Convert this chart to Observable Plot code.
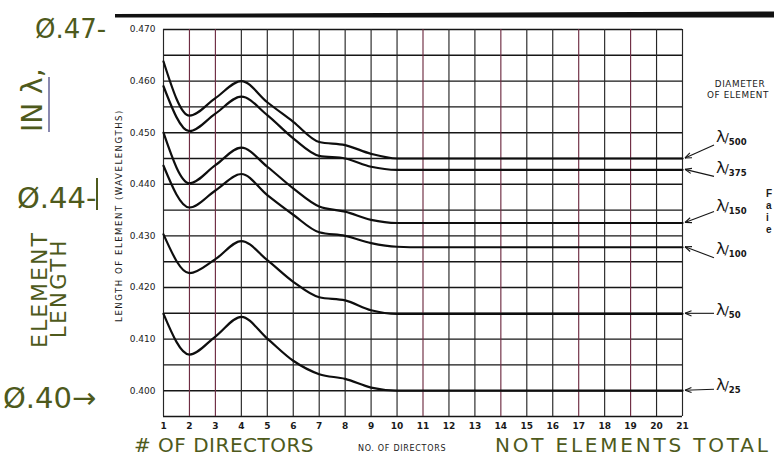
<!DOCTYPE html>
<html>
<head>
<meta charset="utf-8">
<script src="https://cdn.jsdelivr.net/npm/d3@7"></script>
<script src="https://cdn.jsdelivr.net/npm/@observablehq/plot@0.6"></script>
<style>
  html, body { margin: 0; padding: 0; background: #fff; }
  #chart { width: 774px; height: 456px; overflow: hidden; }
</style>
</head>
<body>
<div id="chart"></div>
<script>
// ---- data ----
const directors = [1,2,3,4,5,6,7,8,9,10,11,12,13,14,15,16,17,18,19,20,21];
const diameterLabels = ["500","375","150","100","50","25"];
const lenD500 = [0.4638,0.4533,0.4567,0.4600,0.4559,0.4521,0.4482,0.4476,0.4459,0.4450,0.4450,0.4450,0.4450,0.4450,0.4450,0.4450,0.4450,0.4450,0.4450,0.4450,0.4450];
const lenD375 = [0.4590,0.4503,0.4537,0.4570,0.4534,0.4489,0.4455,0.4450,0.4434,0.4428,0.4428,0.4428,0.4428,0.4428,0.4428,0.4428,0.4428,0.4428,0.4428,0.4428,0.4428];
const lenD150 = [0.4500,0.4402,0.4437,0.4471,0.4434,0.4392,0.4357,0.4347,0.4331,0.4325,0.4325,0.4325,0.4325,0.4325,0.4325,0.4325,0.4325,0.4325,0.4325,0.4325,0.4325];
const lenD100 = [0.4436,0.4355,0.4388,0.4420,0.4379,0.4341,0.4307,0.4300,0.4286,0.4279,0.4278,0.4278,0.4278,0.4278,0.4278,0.4278,0.4278,0.4278,0.4278,0.4278,0.4278];
const lenD50  = [0.4303,0.4228,0.4255,0.4290,0.4253,0.4211,0.4181,0.4175,0.4156,0.4149,0.4149,0.4149,0.4149,0.4149,0.4149,0.4149,0.4149,0.4149,0.4149,0.4149,0.4149];
const lenD25  = [0.4149,0.4070,0.4105,0.4143,0.4101,0.4058,0.4032,0.4023,0.4006,0.4000,0.4000,0.4000,0.4000,0.4000,0.4000,0.4000,0.4000,0.4000,0.4000,0.4000,0.4000];
const xTickLabels = [1,2,3,4,5,6,7,8,9,10,11,12,13,14,15,16,17,18,19,20,21];
const yTickLabels = [0.400,0.410,0.420,0.430,0.440,0.450,0.460,0.470];
const yGridValues = [0.395,0.400,0.405,0.410,0.415,0.420,0.425,0.430,0.435,0.440,0.445,0.450,0.455,0.460,0.465,0.470];
const tintedColumns = [2,3,11,14,17,19];

const seriesList = [lenD500, lenD375, lenD150, lenD100, lenD50, lenD25];
const rows = diameterLabels.flatMap((d, i) =>
  seriesList[i].map((v, j) => ({directors: directors[j], length: v, diameter: d})));

// label layout (pixel offsets relative to each curve's right end)
const labelLayout = [
  {tailDy: -13, textDy: -16},
  {tailDy:   7, textDy:   4},
  {tailDy: -11, textDy: -12},
  {tailDy:  11, textDy:   7},
  {tailDy:   0, textDy:   2},
  {tailDy:  -1, textDy:   0}
];

const ink = "#161616";
const plot = Plot.plot({
  width: 774,
  height: 456,
  marginLeft: 163,
  marginRight: 92,
  marginTop: 29,
  marginBottom: 40,
  x: {domain: [1, 21]},
  y: {domain: [0.395, 0.470]},
  style: {fontFamily: "DejaVu Sans", background: "#ffffff", color: ink},
  marks: [
    Plot.ruleY(yGridValues, {stroke: ink, strokeWidth: 1.4}),
    Plot.ruleX(xTickLabels, {stroke: d => tintedColumns.includes(d) ? "#6e2c42" : "#262626", strokeWidth: 1.15}),
    Plot.axisY({ticks: yTickLabels, tickSize: 0, tickPadding: 8, tickFormat: d3.format(".3f"), fontSize: 9, label: null, fill: "#222"}),
    Plot.axisX({ticks: xTickLabels, tickSize: 0, tickPadding: 6, fontSize: 9, fontWeight: "bold", label: null, fill: "#1a1a1a"}),
    Plot.line(rows, {x: "directors", y: "length", z: "diameter", curve: "monotone-x", stroke: "#0e0e0e", strokeWidth: 2.2})
  ]
});
document.getElementById("chart").appendChild(plot);

// ---- annotations positioned with the plot's own scales ----
const svg = d3.select(plot);
const sx = plot.scale("x"), sy = plot.scale("y");
const ann = svg.append("g").attr("text-anchor", "start");

diameterLabels.forEach((d, i) => {
  const s = seriesList[i];
  const x0 = sx.apply(directors[directors.length - 1]);
  const y0 = sy.apply(s[s.length - 1]);
  const L = labelLayout[i];
  const tipX = x0 + 3, tipY = y0;
  const tailX = x0 + 32, tailY = y0 + L.tailDy;
  ann.append("line").attr("x1", tailX).attr("y1", tailY).attr("x2", tipX).attr("y2", tipY)
    .attr("stroke", ink).attr("stroke-width", 1.1);
  const ang = Math.atan2(tailY - tipY, tailX - tipX);
  [0.38, -0.38].forEach(a => {
    ann.append("line").attr("x1", tipX).attr("y1", tipY)
      .attr("x2", tipX + 7 * Math.cos(ang + a)).attr("y2", tipY + 7 * Math.sin(ang + a))
      .attr("stroke", ink).attr("stroke-width", 1.1);
  });
  const t = ann.append("text").attr("x", x0 + 34).attr("y", y0 + L.textDy)
    .attr("fill", ink).attr("font-family", "DejaVu Sans");
  t.append("tspan").attr("font-size", 16).text("λ");
  t.append("tspan").attr("font-size", 13).attr("dx", -1).text("/");
  t.append("tspan").attr("font-size", 8.5).attr("font-weight", "bold").attr("dy", 3).text(d);
});

// printed axis titles and side text
ann.append("text").attr("transform", `translate(122,${(sy.apply(0.395)+sy.apply(0.470))/2 - 7}) rotate(-90)`)
  .attr("text-anchor", "middle").attr("font-size", 8.6).attr("letter-spacing", 1.5)
  .attr("fill", "#1a1a1a").text("LENGTH OF ELEMENT (WAVELENGTHS)");
ann.append("text").attr("x", 358).attr("y", 451).attr("font-size", 8).attr("letter-spacing", 0.7)
  .attr("fill", "#1a1a1a").text("NO. OF DIRECTORS");
ann.append("text").attr("x", 740).attr("y", 87).attr("text-anchor", "middle").attr("font-size", 8.8)
  .attr("letter-spacing", 0.6).attr("fill", "#1a1a1a").text("DIAMETER");
ann.append("text").attr("x", 738).attr("y", 98).attr("text-anchor", "middle").attr("font-size", 8.8)
  .attr("letter-spacing", 0.6).attr("fill", "#1a1a1a").text("OF ELEMENT");
[["F", 197], ["a", 209], ["i", 221], ["e", 233]].forEach(([s, y]) => {
  ann.append("text").attr("x", 766).attr("y", y).attr("font-size", 10).attr("font-weight", "bold")
    .attr("font-family", "Liberation Sans").attr("fill", "#1a1a1a").text(s);
});

// heavy rule across the top of the scanned page
ann.append("path").attr("d", "M115,14 L774,11.5 L774,17.5 L115,17.5 Z").attr("fill", "#111");

// handwritten notes
const hw = "#4e5a1c";
const hand = (txt, x, y, size, opts = {}) => {
  const t = ann.append("text").attr("font-size", size)
    .attr("fill", hw).attr("font-family", "DejaVu Sans").text(txt);
  if (opts.rotate) t.attr("transform", `translate(${x},${y}) rotate(-90)`);
  else t.attr("x", x).attr("y", y);
  if (opts.ls) t.attr("letter-spacing", opts.ls);
  return t;
};
hand("Ø.47-", 35, 38, 26);
hand("IN λ,", 42, 132, 28, {rotate: true});
ann.append("line").attr("x1", 49).attr("y1", 77).attr("x2", 49).attr("y2", 132).attr("stroke", "#4a4a86").attr("stroke-width", 1.3);
hand("Ø.44-", 17, 208, 29);
ann.append("line").attr("x1", 97).attr("y1", 178).attr("x2", 97).attr("y2", 210).attr("stroke", hw).attr("stroke-width", 2);
hand("ELEMENT", 47, 348, 22, {rotate: true, ls: 2});
hand("LENGTH", 66, 338, 21, {rotate: true, ls: 2.5});
hand("Ø.40→", 3, 408, 29);
hand("# OF DIRECTORS", 134, 452, 20, {ls: 0.5});
hand("NOT ELEMENTS TOTAL", 495, 452, 20, {ls: 2.8});
</script>
</body>
</html>
